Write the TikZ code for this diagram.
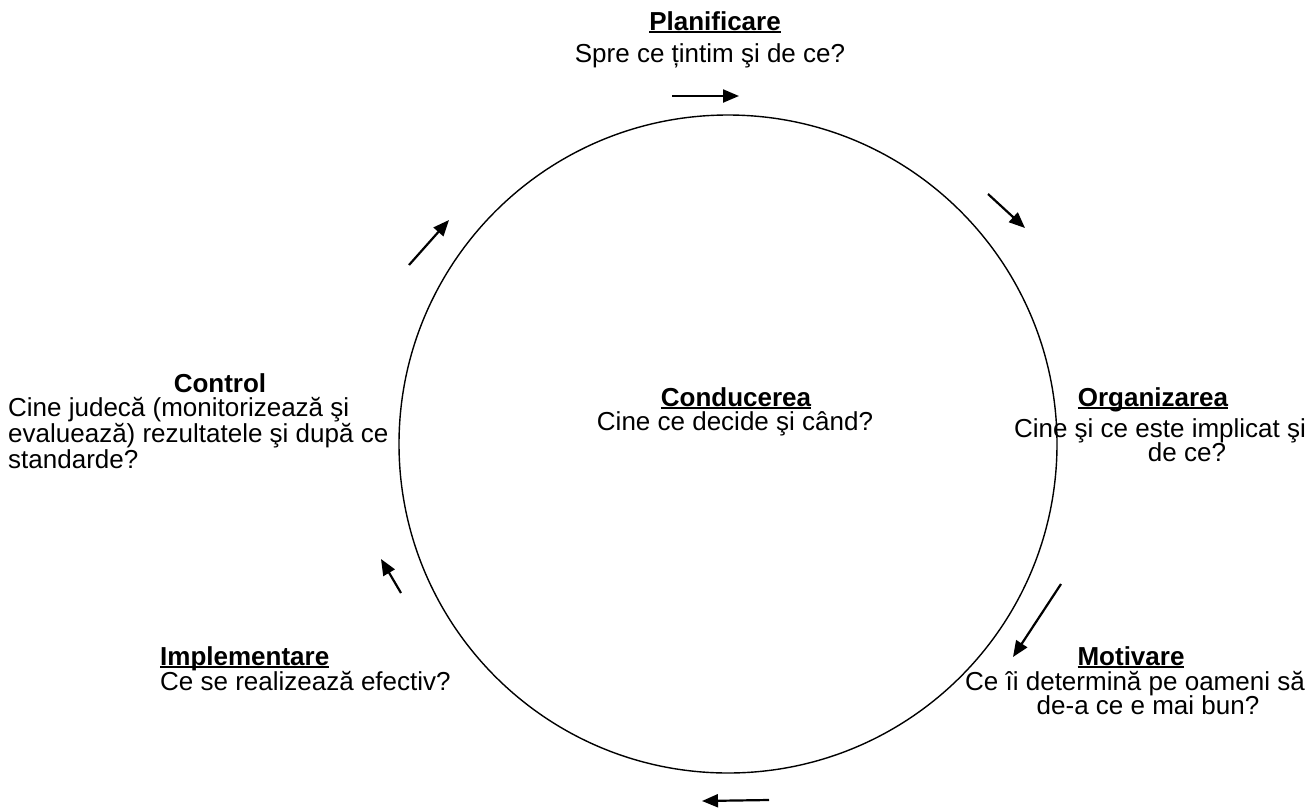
\documentclass[tikz,border=0pt]{standalone}
\usepackage{fontspec}
\setmainfont{Liberation Sans}
\usetikzlibrary{arrows.meta,positioning}
\newcommand{\undl}[1]{\setbox0\hbox{#1}\rlap{\rule[-2.6pt]{\wd0}{1.9pt}}\box0}
\begin{document}
\begin{tikzpicture}[x=1pt,y=-1pt,
    lbl/.style={inner sep=0pt,font=\fontsize{26}{24}\selectfont},
    ttl/.style={inner sep=0pt,font=\fontsize{26}{24}\selectfont\bfseries},
    turn/.style={line width=2.2pt,-{Triangle[length=16pt,width=13pt]}}]
      \useasboundingbox (0,0) rectangle (1307,807);
      \node[circle,draw,line width=1.4pt,minimum size=658pt] (C) at (728,444) {};
      % centre
      \node[ttl,anchor=base] (C_t) at (736,406) {\undl{Conducerea}};
      \node[lbl,anchor=base] (C_q) at (735,430) {Cine ce decide şi când?};
      % stages
      \node[ttl,anchor=base] (P_t) at (715,30) {\undl{Planificare}};
      \node[lbl,anchor=base] (P_q) at (710,62) {Spre ce țintim şi de ce?};
      \node[ttl,anchor=base] (O_t) at (1153,406) {\undl{Organizarea}};
      \node[lbl,anchor=base] (O_q1) at (1160,437) {Cine şi ce este implicat şi};
      \node[lbl,anchor=base] (O_q2) at (1187,461) {de ce?};
      \node[ttl,anchor=base] (M_t) at (1131,665) {\undl{Motivare}};
      \node[lbl,anchor=base] (M_q1) at (1135,690) {Ce îi determină pe oameni să};
      \node[lbl,anchor=base] (M_q2) at (1148,714) {de-a ce e mai bun?};
      \node[ttl,anchor=base west] (I_t) at (160,665) {\undl{Implementare}};
      \node[lbl,anchor=base west] (I_q) at (160,690) {Ce se realizează efectiv?};
      \node[ttl,anchor=base] (K_t) at (220,392) {Control};
      \node[lbl,anchor=base west,align=left] (K_q) at (8,468) {Cine judecă (monitorizează şi\\ evaluează) rezultatele şi după ce\\ standarde?};
      % arrows round the circle
      \coordinate (A_1) at (672,96);  \coordinate (B_1) at (739,96);
      \coordinate (A_2) at (988,194); \coordinate (B_2) at (1025,228);
      \coordinate (A_3) at (1061,584); \coordinate (B_3) at (1013,657);
      \coordinate (A_4) at (769,800); \coordinate (B_4) at (702,801);
      \coordinate (A_5) at (401,593); \coordinate (B_5) at (381,559);
      \coordinate (A_6) at (409,265); \coordinate (B_6) at (449,220);
      \draw[turn] (A_1) -- (B_1);
      \draw[turn] (A_2) -- (B_2);
      \draw[turn] (A_3) -- (B_3);
      \draw[turn] (A_4) -- (B_4);
      \draw[turn] (A_5) -- (B_5);
      \draw[turn] (A_6) -- (B_6);
    \end{tikzpicture}
\end{document}
